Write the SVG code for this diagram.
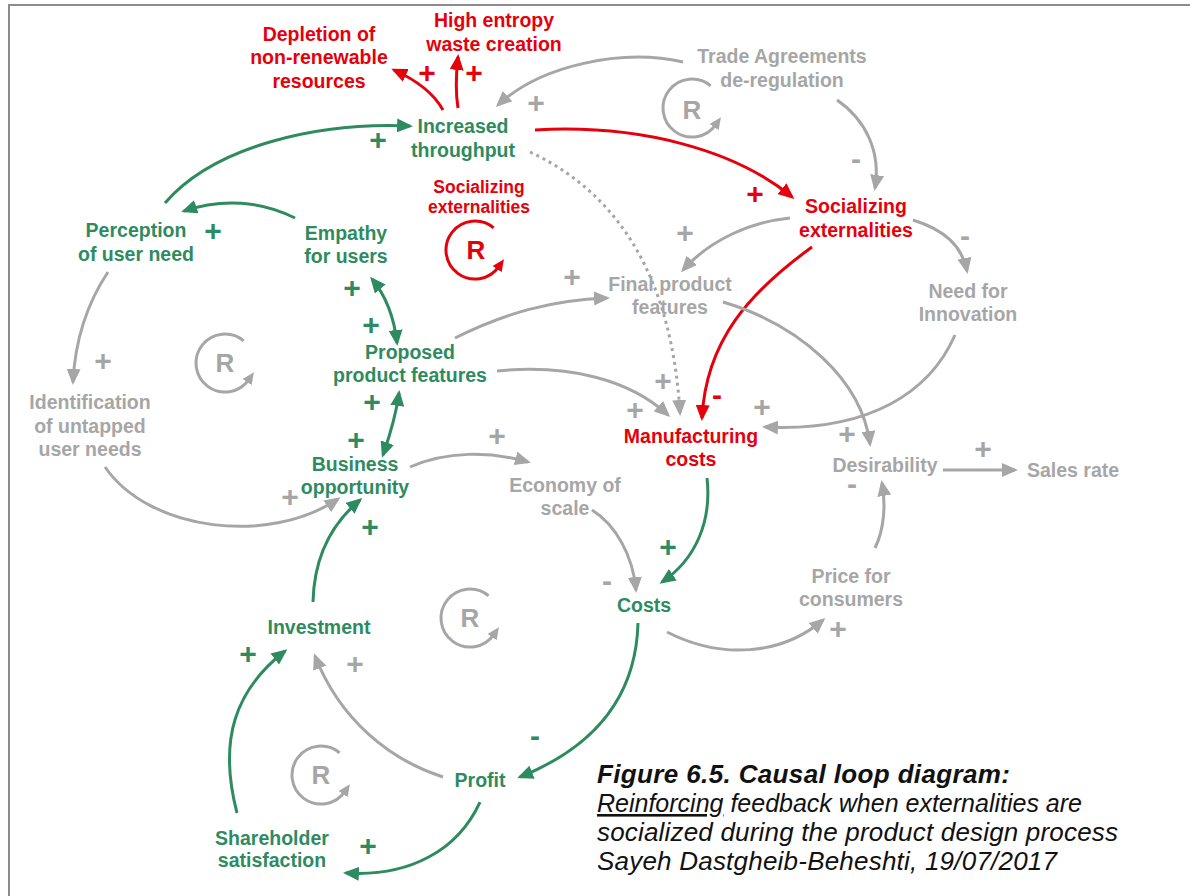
<svg xmlns="http://www.w3.org/2000/svg" width="1190" height="896" viewBox="0 0 1190 896">
<style>
text{font-family:"Liberation Sans",Arial,Helvetica,sans-serif;font-weight:bold}
.n{font-size:19.5px;text-anchor:middle}
.sm{font-size:17.5px;text-anchor:middle}
.tg{fill:#2e8b5f}.tr{fill:#e6000c}.ty{fill:#a6a6a6}
.c{fill:none;stroke-width:3}
.cg{stroke:#2e8b5f}.cr{stroke:#e6000c}.cy{stroke:#a6a6a6}
.dot{stroke-dasharray:3 4}
.s{font-size:30px;text-anchor:middle}
.R{font-size:26px;text-anchor:middle}
.cap{font-size:26px;font-style:italic;font-weight:normal;fill:#111}
</style>
<defs>
<marker id="mg" viewBox="0 0 16 14" refX="13" refY="7" markerWidth="16" markerHeight="14" markerUnits="userSpaceOnUse" orient="auto-start-reverse"><path d="M0,0 L16,7 L0,14 z" fill="#2e8b5f"/></marker>
<marker id="mr" viewBox="0 0 16 14" refX="13" refY="7" markerWidth="16" markerHeight="14" markerUnits="userSpaceOnUse" orient="auto-start-reverse"><path d="M0,0 L16,7 L0,14 z" fill="#e6000c"/></marker>
<marker id="my" viewBox="0 0 16 14" refX="13" refY="7" markerWidth="16" markerHeight="14" markerUnits="userSpaceOnUse" orient="auto-start-reverse"><path d="M0,0 L16,7 L0,14 z" fill="#a6a6a6"/></marker>
<marker id="sy" viewBox="0 0 12 11" refX="3" refY="5.5" markerWidth="12" markerHeight="11" markerUnits="userSpaceOnUse" orient="auto"><path d="M0,0 L12,5.5 L0,11 z" fill="#a6a6a6"/></marker>
<marker id="sr" viewBox="0 0 12 11" refX="3" refY="5.5" markerWidth="12" markerHeight="11" markerUnits="userSpaceOnUse" orient="auto"><path d="M0,0 L12,5.5 L0,11 z" fill="#e6000c"/></marker>
</defs>
<rect width="1190" height="896" fill="#fff"/>
<g id="frame" fill="none" stroke="#8c8c8c" stroke-width="2">
<path d="M9,896 L9,5 L1190,5"/>
</g>

<g id="connectors">
<!-- green -->
<path class="c cg" marker-end="url(#mg)" d="M165,203 C215,145 320,122 410,126"/>
<path class="c cg" marker-end="url(#mg)" d="M295,218 C262,201 222,198 184,211"/>
<path class="c cg" marker-start="url(#mg)" marker-end="url(#mg)" d="M372,279 C386,296 394,316 397,343"/>
<path class="c cg" marker-start="url(#mg)" marker-end="url(#mg)" d="M399,393 C396,415 390,435 383,455"/>
<path class="c cg" marker-end="url(#mg)" d="M707,478 C712,522 695,560 662,582"/>
<path class="c cg" marker-end="url(#mg)" d="M638,623 C636,700 592,748 520,777"/>
<path class="c cg" marker-end="url(#mg)" d="M313,602 C314,560 330,525 360,500"/>
<path class="c cg" marker-end="url(#mg)" d="M480,802 C458,850 410,877 346,873"/>
<path class="c cg" marker-end="url(#mg)" d="M237,813 C218,740 235,690 285,651"/>
<!-- red -->
<path class="c cr" marker-end="url(#mr)" d="M535,130 C640,124 735,150 792,197"/>
<path class="c cr" marker-end="url(#mr)" d="M443,110 C433,92 416,80 394,70"/>
<path class="c cr" marker-end="url(#mr)" d="M458,108 C455,90 456,75 458,57"/>
<path class="c cr" marker-end="url(#mr)" d="M812,247 C750,292 706,340 702,418"/>
<!-- gray -->
<path class="c cy" marker-end="url(#my)" d="M108,272 C86,305 75,342 73,382"/>
<path class="c cy" marker-end="url(#my)" d="M105,467 C150,532 270,545 338,499"/>
<path class="c cy" marker-end="url(#my)" d="M455,338 C505,313 552,300 607,298"/>
<path class="c cy" marker-end="url(#my)" d="M497,371 C570,364 630,380 668,415"/>
<path class="c cy dot" marker-end="url(#my)" d="M530,152 C622,195 672,282 680,413"/>
<path class="c cy" marker-end="url(#my)" d="M683,62 C620,48 540,66 498,105"/>
<path class="c cy" marker-end="url(#my)" d="M837,100 C866,120 881,152 875,188"/>
<path class="c cy" marker-end="url(#my)" d="M790,218 C750,222 710,240 683,270"/>
<path class="c cy" marker-end="url(#my)" d="M913,220 C945,230 962,246 967,271"/>
<path class="c cy" marker-end="url(#my)" d="M723,302 C800,325 862,380 870,444"/>
<path class="c cy" marker-end="url(#my)" d="M955,335 C930,392 870,432 765,427"/>
<path class="c cy" marker-end="url(#my)" d="M943,470 L1015,470"/>
<path class="c cy" marker-end="url(#my)" d="M875,548 C884,530 886,505 882,483"/>
<path class="c cy" marker-end="url(#my)" d="M410,467 C446,451 490,451 528,462"/>
<path class="c cy" marker-end="url(#my)" d="M592,510 C616,525 633,556 636,590"/>
<path class="c cy" marker-end="url(#my)" d="M667,632 C722,660 782,655 823,620"/>
<path class="c cy" marker-end="url(#my)" d="M443,777 C390,760 340,720 315,656"/>
</g>

<g id="signs">
<text class="s tg" x="378" y="150">+</text>
<text class="s tr" x="427" y="83">+</text>
<text class="s tr" x="474" y="83">+</text>
<text class="s ty" x="536" y="113">+</text>
<text class="s tr" x="755" y="204">+</text>
<text class="s ty" x="856" y="169">-</text>
<text class="s ty" x="685" y="243">+</text>
<text class="s ty" x="965" y="246">-</text>
<text class="s tg" x="213" y="241">+</text>
<text class="s tg" x="352" y="298">+</text>
<text class="s tg" x="371" y="335">+</text>
<text class="s ty" x="103" y="371">+</text>
<text class="s tg" x="372" y="412">+</text>
<text class="s tg" x="356" y="450">+</text>
<text class="s ty" x="290" y="507">+</text>
<text class="s ty" x="572" y="287">+</text>
<text class="s ty" x="663" y="391">+</text>
<text class="s ty" x="635" y="420">+</text>
<text class="s tr" x="717" y="405">-</text>
<text class="s ty" x="762" y="417">+</text>
<text class="s ty" x="497" y="446">+</text>
<text class="s ty" x="847" y="444">+</text>
<text class="s ty" x="983" y="459">+</text>
<text class="s ty" x="852" y="494">-</text>
<text class="s tg" x="668" y="557">+</text>
<text class="s ty" x="607" y="591">-</text>
<text class="s ty" x="838" y="639">+</text>
<text class="s tg" x="370" y="537">+</text>
<text class="s ty" x="355" y="674">+</text>
<text class="s tg" x="248" y="664">+</text>
<text class="s tg" x="535" y="746">-</text>
<text class="s tg" x="368" y="856">+</text>
</g>

<g id="loops">
<g id="loop-trade"><path class="c cy" marker-end="url(#sy)" d="M710.6,85.8 A29,29 0 1 0 715.8,124.6"/><text class="R ty" x="692" y="119">R</text></g>
<g id="loop-left"><path class="c cy" marker-end="url(#sy)" d="M243.6,340.8 A29,29 0 1 0 248.8,379.6"/><text class="R ty" x="225" y="372">R</text></g>
<g id="loop-mid"><path class="c cy" marker-end="url(#sy)" d="M488.6,595.8 A29,29 0 1 0 493.8,634.6"/><text class="R ty" x="470" y="627">R</text></g>
<g id="loop-low"><path class="c cy" marker-end="url(#sy)" d="M339.6,752.8 A29,29 0 1 0 344.8,791.6"/><text class="R ty" x="321" y="784">R</text></g>
<g id="loop-red"><path class="c cr" marker-end="url(#sr)" d="M493.6,227.8 A29,29 0 1 0 498.8,266.6"/><text class="R tr" x="476" y="259">R</text></g>
</g>

<g id="n-depletion"><text class="n tr" x="319" y="41">Depletion of</text><text class="n tr" x="319" y="64">non-renewable</text><text class="n tr" x="319" y="88">resources</text></g>
<g id="n-entropy"><text class="n tr" x="494" y="27">High entropy</text><text class="n tr" x="494" y="51">waste creation</text></g>
<g id="n-trade"><text class="n ty" x="782" y="63">Trade Agreements</text><text class="n ty" x="782" y="87">de-regulation</text></g>
<g id="n-throughput"><text class="n tg" x="463" y="133">Increased</text><text class="n tg" x="463" y="157">throughput</text></g>
<g id="n-soc-label"><text class="sm tr" x="479" y="193">Socializing</text><text class="sm tr" x="479" y="213">externalities</text></g>
<g id="n-socializing"><text class="n tr" x="856" y="213">Socializing</text><text class="n tr" x="856" y="237">externalities</text></g>
<g id="n-perception"><text class="n tg" x="136" y="237">Perception</text><text class="n tg" x="136" y="261">of user need</text></g>
<g id="n-empathy"><text class="n tg" x="346" y="240">Empathy</text><text class="n tg" x="346" y="263">for users</text></g>
<g id="n-final"><text class="n ty" x="670" y="291">Final product</text><text class="n ty" x="670" y="314">features</text></g>
<g id="n-need"><text class="n ty" x="968" y="298">Need for</text><text class="n ty" x="968" y="321">Innovation</text></g>
<g id="n-identification"><text class="n ty" x="90" y="409">Identification</text><text class="n ty" x="90" y="433">of untapped</text><text class="n ty" x="90" y="456">user needs</text></g>
<g id="n-proposed"><text class="n tg" x="410" y="359">Proposed</text><text class="n tg" x="410" y="382">product features</text></g>
<g id="n-manufacturing"><text class="n tr" x="691" y="443">Manufacturing</text><text class="n tr" x="691" y="466">costs</text></g>
<g id="n-business"><text class="n tg" x="355" y="471">Business</text><text class="n tg" x="355" y="494">opportunity</text></g>
<g id="n-economy"><text class="n ty" x="565" y="492">Economy of</text><text class="n ty" x="565" y="515">scale</text></g>
<g id="n-desirability"><text class="n ty" x="885" y="472">Desirability</text></g>
<g id="n-sales"><text class="n ty" x="1073" y="477">Sales rate</text></g>
<g id="n-costs"><text class="n tg" x="644" y="612">Costs</text></g>
<g id="n-price"><text class="n ty" x="851" y="583">Price for</text><text class="n ty" x="851" y="606">consumers</text></g>
<g id="n-investment"><text class="n tg" x="319" y="634">Investment</text></g>
<g id="n-profit"><text class="n tg" x="480" y="787">Profit</text></g>
<g id="n-shareholder"><text class="n tg" x="272" y="845">Shareholder</text><text class="n tg" x="272" y="867">satisfaction</text></g>

<g id="caption">
<text class="cap" x="597" y="783" style="font-weight:bold" textLength="413" lengthAdjust="spacing">Figure 6.5. Causal loop diagram:</text>
<text class="cap" x="597" y="812" textLength="485" lengthAdjust="spacingAndGlyphs"><tspan text-decoration="underline">Reinforcing</tspan> feedback when externalities are</text>
<text class="cap" x="597" y="841" textLength="521" lengthAdjust="spacing">socialized during the product design process</text>
<text class="cap" x="597" y="870" textLength="460" lengthAdjust="spacing">Sayeh Dastgheib-Beheshti, 19/07/2017</text>
</g>
</svg>
